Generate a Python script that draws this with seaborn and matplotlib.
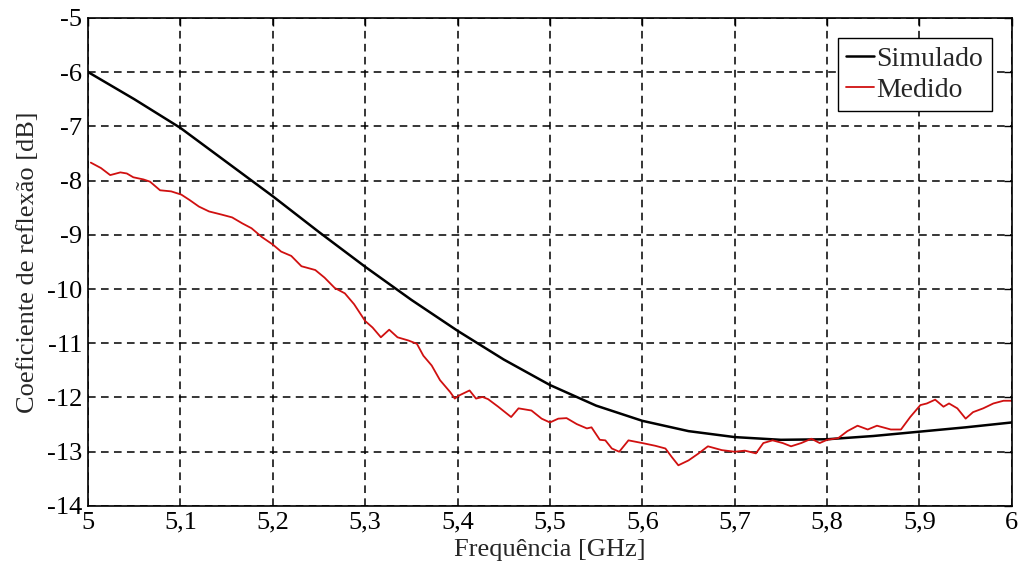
import numpy as np
import pandas as pd
import matplotlib
matplotlib.use("Agg")
import matplotlib.pyplot as plt
import seaborn as sns

# Simulated reflection coefficient
sim_freq = [5.00, 5.05, 5.10, 5.15, 5.20, 5.25, 5.30, 5.35, 5.40, 5.45, 5.50,
            5.55, 5.60, 5.65, 5.70, 5.75, 5.80, 5.85, 5.90, 5.95, 6.00]
sim_db = [-6.00, -6.50, -7.03, -7.66, -8.29, -8.95, -9.59, -10.20, -10.77, -11.30, -11.77,
          -12.15, -12.43, -12.62, -12.73, -12.78, -12.77, -12.71, -12.63, -12.55, -12.46]

# Measured reflection coefficient
meas_freq = [5.003, 5.014, 5.024, 5.035, 5.042, 5.049, 5.060, 5.067, 5.078, 5.090,
             5.101, 5.110, 5.120, 5.131, 5.145, 5.156, 5.167, 5.177, 5.188, 5.200,
             5.209, 5.220, 5.231, 5.246, 5.256, 5.267, 5.278, 5.288, 5.300, 5.308,
             5.317, 5.326, 5.335, 5.347, 5.356, 5.363, 5.372, 5.381, 5.392, 5.397,
             5.402, 5.413, 5.420, 5.427, 5.433, 5.444, 5.458, 5.466, 5.480, 5.491,
             5.500, 5.509, 5.518, 5.529, 5.540, 5.545, 5.554, 5.560, 5.567, 5.575,
             5.585, 5.600, 5.614, 5.625, 5.632, 5.639, 5.650, 5.661, 5.671, 5.686,
             5.700, 5.711, 5.723, 5.731, 5.741, 5.752, 5.761, 5.772, 5.783, 5.792,
             5.800, 5.812, 5.822, 5.833, 5.844, 5.854, 5.869, 5.880, 5.890, 5.901,
             5.908, 5.917, 5.926, 5.932, 5.941, 5.950, 5.958, 5.969, 5.980, 5.991,
             6.000]
meas_db = [-7.67, -7.77, -7.90, -7.85, -7.87, -7.94, -7.98, -8.02, -8.18, -8.20,
           -8.26, -8.36, -8.48, -8.57, -8.63, -8.68, -8.79, -8.88, -9.04, -9.18,
           -9.31, -9.39, -9.58, -9.65, -9.79, -9.98, -10.08, -10.28, -10.59, -10.71,
           -10.89, -10.75, -10.89, -10.95, -11.01, -11.23, -11.41, -11.68, -11.90, -12.02,
           -11.96, -11.87, -12.02, -11.99, -12.03, -12.17, -12.36, -12.20, -12.24, -12.39,
           -12.46, -12.39, -12.38, -12.49, -12.57, -12.55, -12.78, -12.79, -12.94, -13.00,
           -12.79, -12.84, -12.89, -12.94, -13.10, -13.25, -13.16, -13.03, -12.90, -12.97,
           -13.00, -12.98, -13.03, -12.84, -12.79, -12.84, -12.90, -12.84, -12.76, -12.84,
           -12.78, -12.75, -12.62, -12.52, -12.59, -12.52, -12.59, -12.59, -12.36, -12.14,
           -12.11, -12.04, -12.17, -12.11, -12.20, -12.39, -12.27, -12.20, -12.11, -12.06,
           -12.06]

x_ticks = [5.0, 5.1, 5.2, 5.3, 5.4, 5.5, 5.6, 5.7, 5.8, 5.9, 6.0]
x_labels = ["5", "5,1", "5,2", "5,3", "5,4", "5,5", "5,6", "5,7", "5,8", "5,9", "6"]
y_ticks = [-14, -13, -12, -11, -10, -9, -8, -7, -6, -5]
y_labels = [str(v) for v in y_ticks]

sns.set_style("white")
plt.rcParams['font.family'] = ['Liberation Serif', 'DejaVu Serif']

fig = plt.figure(figsize=(10.2, 5.74), dpi=100)
ax = fig.add_axes([0.0863, 0.1185, 0.9057, 0.8505])

df_sim = pd.DataFrame({"f": sim_freq, "db": sim_db})
df_meas = pd.DataFrame({"f": meas_freq, "db": meas_db})
sns.lineplot(data=df_sim, x="f", y="db", ax=ax, color="black", lw=1.8, label="Simulado")
sns.lineplot(data=df_meas, x="f", y="db", ax=ax, color="#d01010", lw=1.3, label="Medido")

ax.set_xlim(5.0, 6.0)
ax.set_ylim(-14, -5)
ax.set_xticks(x_ticks)
ax.set_xticklabels(x_labels)
ax.set_yticks(y_ticks)
ax.set_yticklabels(y_labels)
ax.tick_params(direction="in", length=6, width=1, top=True, right=True,
               labelsize=19, colors="black")
ax.tick_params(axis="x", pad=4)
ax.tick_params(axis="y", pad=4)
ax.grid(True, color="black", linestyle=(0, (5, 3.5)), lw=1.1)
for s in ax.spines.values():
    s.set_color("black")
    s.set_linewidth(1.2)
ax.set_xlabel("Frequência [GHz]", fontsize=19, labelpad=4)
ax.set_ylabel("Coeficiente de reflexão [dB]", fontsize=19, labelpad=6)

leg = ax.legend(loc="upper right", bbox_to_anchor=(0.978, 0.959), fontsize=20,
                frameon=True, fancybox=False, handlelength=1.0, handletextpad=0.1,
                borderpad=0.3, labelspacing=0.2, borderaxespad=0)
leg.get_frame().set_edgecolor("black")
leg.get_frame().set_linewidth(1.0)
leg.get_frame().set_alpha(1)

fig.savefig("out.png", dpi=100)
